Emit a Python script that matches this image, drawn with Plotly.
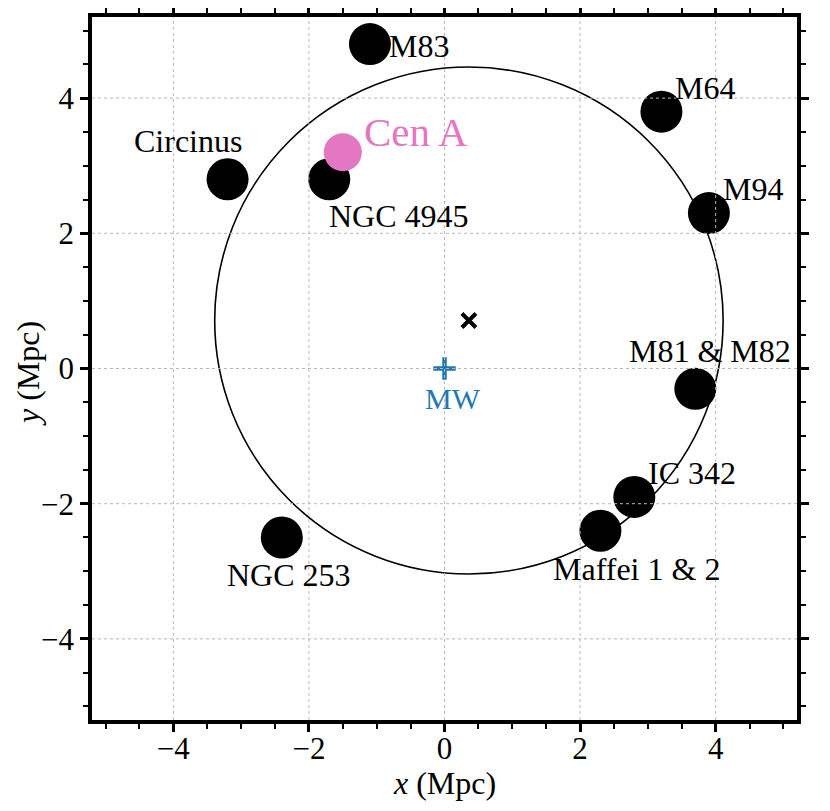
import plotly.graph_objects as go

# ---- data ----
galaxy_names = ["M83", "M64", "Circinus", "NGC 4945", "M94",
                "M81 & M82", "IC 342", "Maffei 1 & 2", "NGC 253"]
galaxy_x = [-1.1, 3.2, -3.2, -1.7, 3.9, 3.7, 2.8, 2.3, -2.4]
galaxy_y = [4.8, 3.8, 2.8, 2.8, 2.3, -0.3, -1.9, -2.4, -2.5]
cen_a_x = [-1.5]
cen_a_y = [3.2]
mw_x = [0.0]
mw_y = [0.0]
centre_x = [0.36]
centre_y = [0.71]
circle_radius = 3.75
tick_vals = [-4, -2, 0, 2, 4]
tick_text = ["\u22124", "\u22122", "0", "2", "4"]

# label offsets in pixels (dx right, dy down) from each marker
label_dx = [49, 44, -40, 70, 44, 15, 58, 36, 7]
label_dy = [2, -24, -38, 37, -24, -38, -24, 38, 38]

FONT = "Liberation Serif"

fig = go.Figure()

# circle (through axis scales)
fig.add_shape(type="circle", xref="x", yref="y",
              x0=centre_x[0] - circle_radius, x1=centre_x[0] + circle_radius,
              y0=centre_y[0] - circle_radius, y1=centre_y[0] + circle_radius,
              line=dict(color="black", width=1.6), layer="below")

fig.add_trace(go.Scatter(x=galaxy_x, y=galaxy_y, mode="markers",
                         marker=dict(size=42, color="black", line=dict(width=0)),
                         hoverinfo="skip", showlegend=False))
fig.add_trace(go.Scatter(x=cen_a_x, y=cen_a_y, mode="markers",
                         marker=dict(size=38, color="#e377c2", line=dict(width=0)),
                         hoverinfo="skip", showlegend=False))
fig.add_trace(go.Scatter(x=mw_x, y=mw_y, mode="markers",
                         marker=dict(symbol="cross-thin", size=16,
                                     line=dict(color="#1f77b4", width=4.5)),
                         hoverinfo="skip", showlegend=False))
fig.add_trace(go.Scatter(x=centre_x, y=centre_y, mode="markers",
                         marker=dict(symbol="x-thin", size=14,
                                     line=dict(color="black", width=4)),
                         hoverinfo="skip", showlegend=False))

annotations = []
for name, x, y, dx, dy in zip(galaxy_names, galaxy_x, galaxy_y, label_dx, label_dy):
    annotations.append(dict(x=x, y=y, xref="x", yref="y", text=name,
                            showarrow=False, xanchor="center", yanchor="middle",
                            xshift=dx, yshift=-dy,
                            font=dict(family=FONT, size=32, color="black")))
annotations.append(dict(x=cen_a_x[0], y=cen_a_y[0], xref="x", yref="y", text="Cen A",
                        showarrow=False, xanchor="center", yanchor="middle",
                        xshift=73, yshift=20,
                        font=dict(family=FONT, size=41, color="#e377c2")))
annotations.append(dict(x=mw_x[0], y=mw_y[0], xref="x", yref="y", text="MW",
                        showarrow=False, xanchor="center", yanchor="middle",
                        xshift=8, yshift=-30,
                        font=dict(family=FONT, size=30, color="#1f77b4")))

# axis titles
annotations.append(dict(x=0.5, y=-0.089, xref="paper", yref="paper",
                        text="<i>x</i> (Mpc)", showarrow=False,
                        xanchor="center", yanchor="middle",
                        font=dict(family=FONT, size=32, color="black")))
annotations.append(dict(x=-0.09, y=0.493, xref="paper", yref="paper",
                        text="<i>y</i> (Mpc)", showarrow=False, textangle=-90,
                        xanchor="center", yanchor="middle",
                        font=dict(family=FONT, size=32, color="black")))

# dotted grid drawn above the markers
for v in tick_vals:
    fig.add_shape(type="line", xref="x", yref="paper", x0=v, x1=v, y0=0, y1=1,
                  line=dict(color="#b8b8b8", width=1, dash="dot"), layer="above")
    fig.add_shape(type="line", xref="paper", yref="y", x0=0, x1=1, y0=v, y1=v,
                  line=dict(color="#b8b8b8", width=1, dash="dot"), layer="above")

axis_common = dict(
    range=[-5.2, 5.2], tickvals=tick_vals, ticktext=tick_text,
    showgrid=False, zeroline=False, automargin=False,
    showline=True, linecolor="black", linewidth=3.5, mirror="allticks",
    ticks="outside", ticklen=8, tickwidth=2.5, tickcolor="black",
    tickfont=dict(family=FONT, size=31, color="black"),
    minor=dict(dtick=0.5, tick0=0, ticks="outside", ticklen=5, tickwidth=2,
               tickcolor="black", showgrid=False),
)

# the page body adds an 8px margin, so the figure is offset accordingly
fig.update_layout(
    width=814, height=795,
    margin=dict(l=84, r=25, t=9, b=83),
    paper_bgcolor="white", plot_bgcolor="white",
    xaxis=dict(**axis_common, ticklabelstandoff=-10),
    yaxis=dict(**axis_common),
    annotations=annotations,
    showlegend=False,
)

fig.write_html("out.html")
